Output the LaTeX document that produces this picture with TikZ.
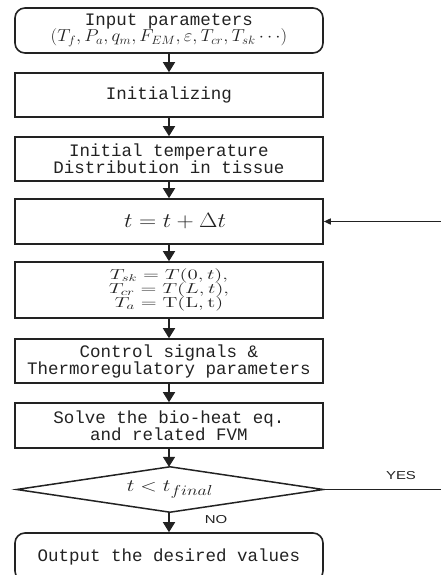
\documentclass[tikz,border=0pt]{standalone}
\usepackage{fontspec}
\usepackage{graphicx}
\usetikzlibrary{arrows.meta}
\newfontfamily\monofnt{Liberation Mono}
\newfontfamily\labfnt{Liberation Sans}
\newcommand\sx[2][1.3]{\scalebox{#1}[1]{#2}}
\newcommand\tightlines{\lineskiplimit=-30pt\relax\lineskip=0pt\relax}
\definecolor{ink}{HTML}{222222}
\begin{document}
\begin{tikzpicture}[x=1pt,y=-1pt,
  box/.style={draw=ink, line width=1.6pt, minimum width=308pt, inner sep=0pt,
    text=ink, align=center, font=\monofnt\fontsize{17.5}{17}\selectfont},
  rbox/.style={box, rounded corners=10pt},
  decision/.style={minimum width=306pt, minimum height=45pt, inner sep=0pt,
    text=ink, font=\fontsize{19}{17}\selectfont},
  shapeline/.style={draw=ink, line width=1.5pt, line join=miter},
  flow/.style={draw=ink, line width=1.6pt, -{Triangle[length=10pt,width=12pt]}},
  fb/.style={draw=ink, line width=1.5pt, -{Triangle[length=7pt,width=6pt]}},
  lab/.style={text=ink, inner sep=0pt, font=\labfnt\fontsize{11.5}{13}\selectfont}]
\useasboundingbox (0,0) rectangle (440,575);
\node[rbox, minimum height=45pt] (inp) at (169,30.5)
  {Input parameters\\[-1pt] \sx[1.08]{$(T_f,P_a,q_m,F_{EM},\varepsilon,T_{cr},T_{sk}\cdots)$}};
\node[box, minimum height=44pt] (init) at (169,95) {Initializing};
\node[box, minimum height=44pt] (dist) at (169,159) {Initial temperature\\Distribution in tissue};
\node[box, minimum height=45pt, font={\fontsize{19.5}{17}\selectfont}] (tstep) at (169,221.5) {\sx[1.15]{$t=t+\Delta t$}\hspace*{-12pt}};
\node[box, minimum height=56pt, font={\fontsize{14.5}{14}\selectfont\tightlines}] (temps) at (169,290)
  {\sx[1.45]{$T_{sk}=T(0,t),$}\\\sx[1.45]{$T_{cr}=T(L,t),$}\\\sx[1.45]{$T_a=\mathrm{T(L,t)}$}};
\node[box, minimum height=44pt] (ctrl) at (169,361) {Control signals \&\\Thermoregulatory parameters};
\node[box, minimum height=45pt] (solve) at (169,425.5) {Solve the bio-heat eq.\\and related FVM};
\node[decision] (dec) at (170,489.5) {\sx[1.25]{$t<t_{final}$}};
\draw[shapeline] (dec.west) -- (dec.north) -- (dec.east) -- (dec.south) -- cycle;
\node[rbox, minimum height=48pt] (out) at (169,557) {Output the desired values};
\node[lab] (yes) at (401,476) {\sx{YES}};
\node[lab] (no) at (216,520) {\sx{NO}};
\coordinate (loop) at (447,489.5);
\draw[flow] (inp) -- (init);
\draw[flow] (init) -- (dist);
\draw[flow] (dist) -- (tstep);
\draw[flow] (tstep) -- (temps);
\draw[flow] (temps) -- (ctrl);
\draw[flow] (ctrl) -- (solve);
\draw[flow] (solve.south) -- (solve.south |- dec.north);
\draw[flow] (dec.south -| out.north) -- (out.north);
\draw[fb] (dec.east) -- (loop) |- (tstep.east);
\end{tikzpicture}
\end{document}
